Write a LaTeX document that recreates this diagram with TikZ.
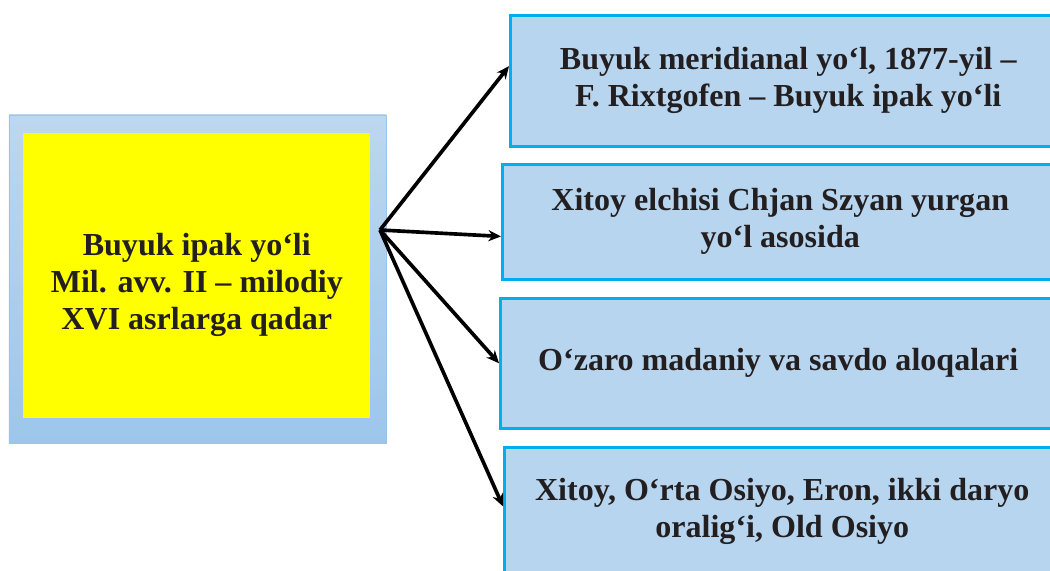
\documentclass[tikz,border=0pt]{standalone}
\usepackage{fontspec}
\setmainfont{Liberation Serif}
\usetikzlibrary{arrows.meta,positioning}
\definecolor{boxblue}{HTML}{B8D5F0}
\definecolor{edgeblue}{HTML}{00AEEF}
\definecolor{outertop}{HTML}{BDD7EE}
\definecolor{outerbot}{HTML}{9DC6EC}
\definecolor{outeredge}{HTML}{9CC3E8}
\definecolor{panelyellow}{HTML}{FFFF00}
\definecolor{inktext}{HTML}{231F20}

\begin{document}
\begin{tikzpicture}[font=\fontsize{22.8}{26.3}\selectfont\bfseries, >={Stealth[length=9pt,width=8pt]},
    infobox/.style={draw=edgeblue, line width=1.8pt, fill=boxblue, text=inktext, align=center,
      anchor=north west, minimum width=13.9cm, inner sep=0pt}]
    \useasboundingbox (0,0) rectangle (26.25,14.25);
    \node[draw=outeredge, line width=.6pt, top color=outertop, bottom color=outerbot,
      minimum width=9.425cm, minimum height=8.2cm] (frame) at (4.9375,7.275) {};
    \node[fill=panelyellow, minimum width=8.675cm, minimum height=7.125cm] (panel) at (4.9125,7.3625) {};
    \node[text=inktext, align=center] (src) at (4.92,7.12)
      {Buyuk ipak yo‘li\\Mil. avv. II – milodiy\\XVI asrlarga qadar};
    \node[infobox, minimum height=3.275cm] (route) at (12.725,13.9)
      {Buyuk meridianal yo‘l, 1877-yil –\\F. Rixtgofen – Buyuk ipak yo‘li};
    \node[infobox, minimum height=2.875cm] (envoy) at (12.525,10.175)
      {Xitoy elchisi Chjan Szyan yurgan\\yo‘l asosida};
    \node[infobox, minimum height=3.25cm] (trade) at (12.475,6.825)
      {O‘zaro madaniy va savdo aloqalari};
    \node[infobox, minimum height=3.2cm] (lands) at (12.575,3.1)
      {Xitoy, O‘rta Osiyo, Eron, ikki daryo\\oralig‘i, Old Osiyo};
    \coordinate (hub) at (9.5,8.5);
    \foreach \dst/\ang in {route/177,envoy/183,trade/180,lands/179}
      \draw[->, line width=2.6pt] (hub) -- (\dst.\ang);
  \end{tikzpicture}
\end{document}
